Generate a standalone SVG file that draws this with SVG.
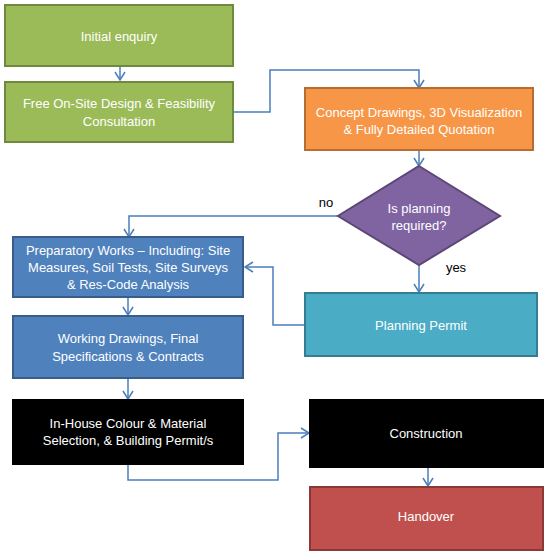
<svg xmlns="http://www.w3.org/2000/svg" width="550" height="559" viewBox="0 0 550 559">
<style>
.t{font-family:"Liberation Sans",Arial,sans-serif;font-size:13px;fill:#fff;text-anchor:middle}
.l{font-family:"Liberation Sans",Arial,sans-serif;font-size:13px;fill:#000;text-anchor:middle}
.c{fill:none;stroke:#4A7EBB;stroke-width:1.5}
.g{fill:#9BBB59;stroke:#71893F;stroke-width:2}
.o{fill:#F79646;stroke:#B66D31;stroke-width:2}
.p{fill:#8064A2;stroke:#5C4776;stroke-width:2}
.b{fill:#4F81BD;stroke:#385D8A;stroke-width:2}
.q{fill:#4BACC6;stroke:#357D91;stroke-width:2}
.k{fill:#000;stroke:#000;stroke-width:2}
.r{fill:#C0504D;stroke:#8C3836;stroke-width:2}
</style>
<defs>
<marker id="a" viewBox="0 0 12 12" refX="11" refY="6" markerWidth="12" markerHeight="12" markerUnits="userSpaceOnUse" orient="auto">
<polyline points="3,1 11,6 3,11" fill="none" stroke="#4A7EBB" stroke-width="1.5"/>
</marker>
</defs>
<rect width="550" height="559" fill="#fff"/>
<g id="connectors">
<path class="c" d="M120,67 V80" marker-end="url(#a)"/>
<path class="c" d="M233,112 H270 V70 H419 V88" marker-end="url(#a)"/>
<path class="c" d="M419,150 V166" marker-end="url(#a)"/>
<path class="c" d="M338,216 H129 V237" marker-end="url(#a)"/>
<path class="c" d="M419,265 V292" marker-end="url(#a)"/>
<path class="c" d="M305,325 H273 V267 H245" marker-end="url(#a)"/>
<path class="c" d="M128,297 V315" marker-end="url(#a)"/>
<path class="c" d="M128,378 V399" marker-end="url(#a)"/>
<path class="c" d="M128,464 V480 H278 V433 H309" marker-end="url(#a)"/>
<path class="c" d="M428,467 V486" marker-end="url(#a)"/>
</g>
<g id="n1"><rect class="g" x="5" y="5" width="228" height="61"/><text class="t" x="119" y="41">Initial enquiry</text></g>
<g id="n2"><rect class="g" x="5" y="82" width="228" height="60"/><text class="t" x="119" y="108">Free On-Site Design &amp; Feasibility</text><text class="t" x="119" y="126">Consultation</text></g>
<g id="n3"><rect class="o" x="305" y="88" width="228" height="62"/><text class="t" x="419" y="117">Concept Drawings, 3D Visualization</text><text class="t" x="419" y="134">&amp; Fully Detailed Quotation</text></g>
<g id="n4"><polygon class="p" points="419,166 500,216 419,265 338,216"/><text class="t" x="419" y="213">Is planning</text><text class="t" x="419" y="230">required?</text></g>
<text class="l" x="326" y="207">no</text>
<text class="l" x="456" y="272">yes</text>
<g id="n5"><rect class="b" x="13" y="237" width="230" height="60"/><text class="t" x="128" y="255">Preparatory Works – Including: Site</text><text class="t" x="128" y="272">Measures, Soil Tests, Site Surveys</text><text class="t" x="128" y="289">&amp; Res-Code Analysis</text></g>
<g id="n6"><rect class="q" x="305" y="293" width="232" height="63"/><text class="t" x="421" y="330">Planning Permit</text></g>
<g id="n7"><rect class="b" x="13" y="316" width="230" height="62"/><text class="t" x="128" y="343">Working Drawings, Final</text><text class="t" x="128" y="361">Specifications &amp; Contracts</text></g>
<g id="n8"><rect class="k" x="13" y="400" width="230" height="64"/><text class="t" x="128" y="428">In-House Colour &amp; Material</text><text class="t" x="128" y="445">Selection, &amp; Building Permit/s</text></g>
<g id="n9"><rect class="k" x="310" y="400" width="233" height="67"/><text class="t" x="426" y="438">Construction</text></g>
<g id="n10"><rect class="r" x="310" y="487" width="233" height="63"/><text class="t" x="426" y="521">Handover</text></g>
</svg>
